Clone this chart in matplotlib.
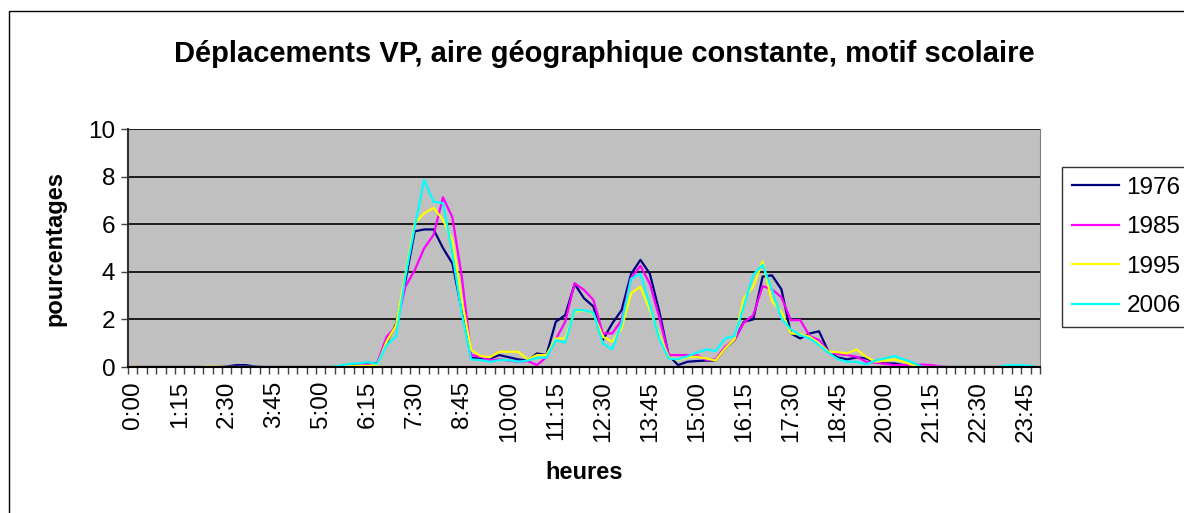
import matplotlib.pyplot as plt
import numpy as np
from matplotlib.patches import Rectangle

plt.rcParams['font.family'] = ['Liberation Sans', 'DejaVu Sans']

# quarter-hour slots 0:00 .. 24:00 (97 categories)
heures = ['%d:%02d' % (q // 4, (q % 4) * 15) for q in range(97)]

v1976 = [0, 0, 0, 0, 0, 0, 0, 0, 0, 0, 0.02, 0.08, 0.08, 0.02, 0, 0, 0, 0, 0, 0,
         0, 0, 0.02, 0.1, 0.12, 0.18, 0.15, 1.0, 1.8, 3.6, 5.7, 5.78, 5.78, 5.0, 4.35, 2.4,
         0.38, 0.35, 0.36, 0.5, 0.41, 0.32, 0.27, 0.57, 0.5, 1.9, 2.18, 3.49, 2.89, 2.54,
         1.13, 1.83, 2.39, 3.9, 4.5, 3.92, 2.35, 0.5, 0.08, 0.22, 0.25, 0.27, 0.27, 0.78,
         1.13, 1.9, 2.0, 3.8, 3.85, 3.26, 1.41, 1.2, 1.41, 1.5, 0.64, 0.4, 0.32, 0.4, 0.36,
         0.22, 0.15, 0.15, 0.08, 0.12, 0, 0, 0, 0, 0, 0, 0, 0, 0, 0, 0, 0, 0]
v1985 = [0.02, 0, 0, 0, 0, 0, 0, 0, 0, 0.02, 0, 0, 0, 0, 0, 0, 0, 0, 0, 0,
         0, 0, 0.02, 0.05, 0.08, 0.1, 0.15, 1.27, 1.7, 3.37, 4.07, 4.99, 5.55, 7.13, 6.29, 3.8,
         0.5, 0.43, 0.29, 0.32, 0.27, 0.22, 0.25, 0.08, 0.41, 1.16, 1.9, 3.52, 3.24, 2.82,
         1.41, 1.41, 1.97, 3.73, 4.25, 3.5, 2.1, 0.5, 0.5, 0.5, 0.5, 0.3, 0.32, 0.85,
         1.13, 1.86, 2.18, 3.4, 3.26, 2.93, 1.97, 1.97, 1.3, 1.13, 0.64, 0.55, 0.5, 0.43, 0.22,
         0.18, 0.13, 0.08, 0.08, 0.08, 0.1, 0.08, 0.02, 0, 0, 0, 0, 0, 0, 0.02, 0.02, 0.02, 0]
v1995 = [0.02, 0, 0, 0, 0, 0, 0, 0, 0.02, 0.02, 0, 0, 0, 0, 0, 0, 0, 0, 0, 0,
         0, 0, 0.02, 0.03, 0.05, 0.05, 0.08, 1.06, 1.74, 3.9, 6.04, 6.46, 6.69, 6.18, 5.34, 2.8,
         0.71, 0.46, 0.41, 0.64, 0.64, 0.64, 0.32, 0.5, 0.5, 1.2, 1.2, 2.32, 2.39, 2.25,
         1.27, 1.06, 1.62, 3.1, 3.37, 2.4, 1.35, 0.43, 0.29, 0.41, 0.43, 0.36, 0.27, 0.78,
         1.16, 2.89, 3.38, 4.43, 2.75, 2.32, 1.41, 1.39, 1.27, 0.99, 0.64, 0.62, 0.57, 0.74, 0.43,
         0.22, 0.27, 0.32, 0.22, 0.08, 0, 0, 0, 0, 0, 0, 0, 0, 0, 0, 0, 0, 0]
v2006 = [0, 0, 0, 0, 0, 0, 0, 0, 0, 0, 0, 0, 0, 0, 0, 0, 0, 0, 0, 0,
         0, 0, 0.05, 0.13, 0.15, 0.2, 0.13, 0.92, 1.27, 3.8, 5.9, 7.86, 6.95, 6.88, 4.78, 2.25,
         0.32, 0.29, 0.22, 0.29, 0.29, 0.22, 0.27, 0.39, 0.39, 1.13, 1.02, 2.39, 2.39, 2.28,
         0.99, 0.74, 1.83, 3.7, 3.92, 2.6, 1.2, 0.36, 0.32, 0.45, 0.6, 0.74, 0.67, 1.2,
         1.3, 2.54, 3.87, 4.29, 3.24, 2.04, 1.58, 1.34, 1.2, 0.92, 0.6, 0.33, 0.22, 0.22, 0.11,
         0.27, 0.36, 0.46, 0.32, 0.18, 0, 0, 0, 0, 0, 0, 0, 0, 0, 0.07, 0.07, 0.07, 0.01]

series = [('1976', v1976, '#000080'), ('1985', v1985, '#FF00FF'),
          ('1995', v1995, '#FFFF00'), ('2006', v2006, '#00FFFF')]

W, H = 1184, 513
fig = plt.figure(figsize=(W / 100, H / 100), dpi=100)
ax = fig.add_axes([128 / W, 1 - 367 / H, 912 / W, 238 / H])
ax.set_facecolor('#C0C0C0')

x = np.arange(len(heures))
for name, vals, col in series:
    ax.plot(x, vals, color=col, lw=1.6, label=name)

ax.set_xlim(-0.5, len(heures) - 0.5)
ax.set_ylim(0, 10)
ax.set_yticks(range(0, 11, 2))
ax.yaxis.grid(True, color='black', lw=1.2)
ax.set_axisbelow(True)

ax.set_xticks(x[::5])
ax.set_xticklabels(heures[::5], rotation=90, fontsize=17.5)
ax.set_xticks(np.arange(-0.5, len(heures)), minor=True)
ax.tick_params(axis='x', which='major', length=0, pad=10)
ax.tick_params(axis='x', which='minor', length=5, width=1, direction='out', color='#404040')
ax.tick_params(axis='y', length=5, width=1, color='#404040', labelsize=17.5, pad=4)

ax.spines['top'].set_visible(False)
ax.spines['right'].set_color('#808080')
ax.spines['left'].set_color('#303030')
ax.spines['left'].set_linewidth(1.5)
ax.spines['bottom'].set_color('black')
ax.spines['bottom'].set_linewidth(1.5)

ax.set_xlabel('heures', fontsize=17, fontweight='bold', labelpad=14)
ax.set_ylabel('pourcentages', fontsize=17, fontweight='bold', labelpad=16)
fig.text(604 / W, 1 - 54 / H, 'Déplacements VP, aire géographique constante, motif scolaire',
         ha='center', va='center', fontsize=21, fontweight='bold')

leg = fig.legend(loc='upper left', bbox_to_anchor=(1062 / W, 1 - 167 / H),
                 fontsize=17.5, frameon=True, fancybox=False, edgecolor='black',
                 handlelength=1.95, handletextpad=0.3, borderpad=0.4,
                 labelspacing=0.72, borderaxespad=0)
leg.get_frame().set_linewidth(1)
for line in leg.get_lines():
    line.set_linewidth(1.6)

fig.add_artist(Rectangle((9 / W, -0.5), 2, 1.5 - 11 / H, transform=fig.transFigure,
                         fill=False, edgecolor='black', lw=1))

fig.savefig('out.png', dpi=100)
